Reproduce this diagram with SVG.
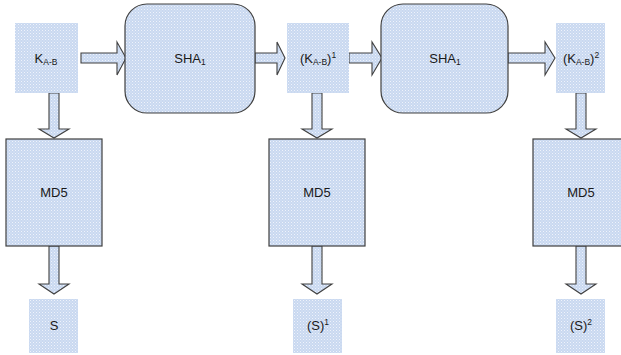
<svg xmlns="http://www.w3.org/2000/svg" width="621" height="355" viewBox="0 0 621 355">
<defs>
<pattern id="dots" width="3" height="3" patternUnits="userSpaceOnUse">
<rect width="3" height="3" fill="#c9d8f0"/>
<rect x="0" y="0" width="1" height="1" fill="#eef3fb"/>
<rect x="1.5" y="1.5" width="1" height="1" fill="#e4ecf8"/>
</pattern>
<style>
.box{fill:url(#dots);}
.bord{fill:url(#dots);stroke:#404040;stroke-width:1.2;}
.arr{fill:url(#dots);stroke:#404040;stroke-width:1.1;stroke-linejoin:miter;}
text{font-family:"Liberation Sans",Arial,sans-serif;font-size:13px;fill:#1a1a1a;text-anchor:middle;}
.sub{font-size:8.5px;}
</style>
</defs>
<rect width="621" height="355" fill="#fff"/>
<g id="connectors">
<path class="arr" d="M81,53 H117 V42 L126,58 L117,75 V63 H81 Z"/>
<path class="arr" d="M255,53 H277 V42 L285,58 L277,75 V63 H255 Z"/>
<path class="arr" d="M349,53 H372 V42 L382,58 L372,75 V63 H349 Z"/>
<path class="arr" d="M508,53 H545 V42 L555,58 L545,75 V63 H508 Z"/>
<path class="arr" d="M49,93 V129 H39 L54,138 L69,129 H59 V93 Z"/>
<path class="arr" d="M49,246 V284 H39 L54,294 L69,284 H59 V246 Z"/>
<path class="arr" d="M312,93 V129 H302 L317,138 L332,129 H322 V93 Z"/>
<path class="arr" d="M312,246 V284 H302 L317,294 L332,284 H322 V246 Z"/>
<path class="arr" d="M576,93 V129 H566 L581,138 L596,129 H586 V93 Z"/>
<path class="arr" d="M576,246 V284 H566 L581,294 L596,284 H586 V246 Z"/>
</g>
<g id="k0">
<rect class="box" x="15" y="23" width="63" height="70"/>
<text x="46" y="63">K<tspan class="sub" dy="2">A-B</tspan></text>
</g>
<g id="sha1">
<rect class="bord" x="125" y="4" width="130" height="109" rx="22" ry="22"/>
<text x="190" y="63">SHA<tspan class="sub" dy="2">1</tspan></text>
</g>
<g id="k1">
<rect class="box" x="287" y="23" width="62" height="70"/>
<text x="318" y="63">(K<tspan class="sub" dy="2">A-B</tspan><tspan dy="-2">)</tspan><tspan class="sub" dy="-5">1</tspan></text>
</g>
<g id="sha2">
<rect class="bord" x="381" y="4" width="127" height="109" rx="22" ry="22"/>
<text x="445" y="63">SHA<tspan class="sub" dy="2">1</tspan></text>
</g>
<g id="k2">
<rect class="box" x="556" y="23" width="49" height="70"/>
<text x="581" y="63">(K<tspan class="sub" dy="2">A-B</tspan><tspan dy="-2">)</tspan><tspan class="sub" dy="-5">2</tspan></text>
</g>
<g id="md5a">
<rect class="bord" x="6" y="139" width="96" height="107"/>
<text x="54" y="197">MD5</text>
</g>
<g id="md5b">
<rect class="bord" x="269" y="139" width="96" height="107"/>
<text x="317" y="197">MD5</text>
</g>
<g id="md5c">
<rect class="bord" x="533" y="139" width="96" height="107"/>
<text x="581" y="197">MD5</text>
</g>
<g id="s0">
<rect class="box" x="29" y="299" width="49" height="54"/>
<text x="54" y="330">S</text>
</g>
<g id="s1">
<rect class="box" x="293" y="299" width="49" height="54"/>
<text x="318" y="330">(S)<tspan class="sub" dy="-5">1</tspan></text>
</g>
<g id="s2">
<rect class="box" x="556" y="299" width="49" height="54"/>
<text x="581" y="330">(S)<tspan class="sub" dy="-5">2</tspan></text>
</g>
</svg>
